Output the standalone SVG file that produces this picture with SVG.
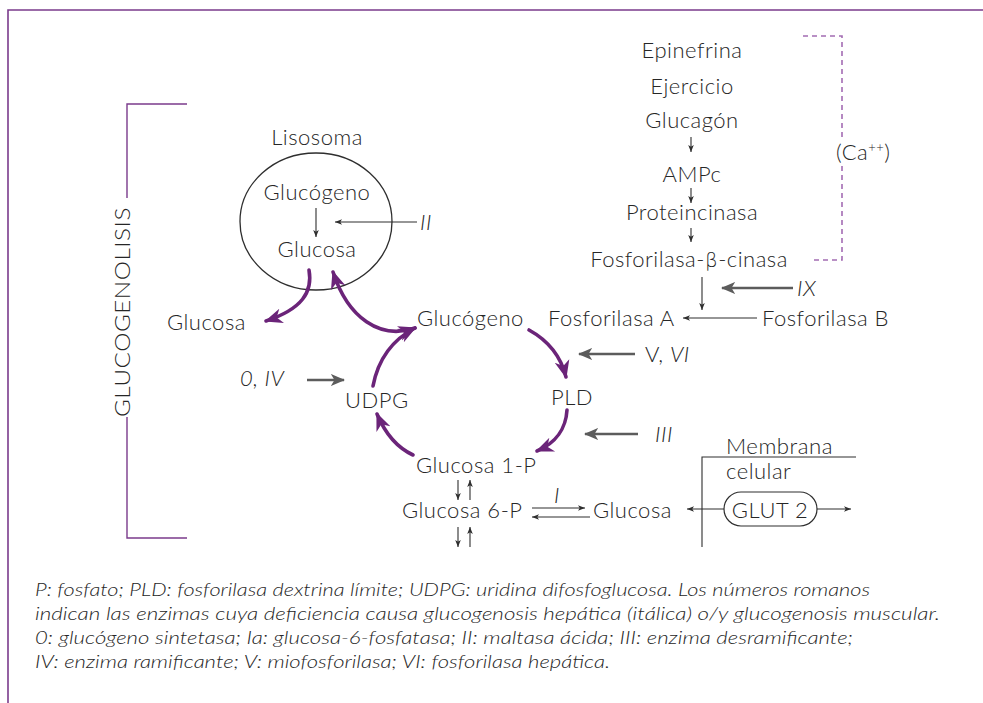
<svg xmlns="http://www.w3.org/2000/svg" width="983" height="703" viewBox="0 0 983 703">
  <defs>
    <style>
      .t { font-family: "Lato", "Open Sans", "Liberation Sans", sans-serif; font-weight: 300; font-size: 22px; letter-spacing: 0.5px; fill: #262626; }
      .c { text-anchor: middle; }
      .i { font-style: italic; }
      .note { font-family: "Lato", "Liberation Sans", sans-serif; font-weight: 300; font-size: 17px; font-style: italic; fill: #262626; }
      .frame { fill: none; stroke: #7b3b8c; stroke-width: 1.6; }
      .br { fill: none; stroke: #7b3b8c; stroke-width: 1.4; }
      .dash { fill: none; stroke: #a36cb3; stroke-width: 1.6; stroke-dasharray: 5 4; }
      .flow { fill: none; stroke: #6b2479; stroke-width: 3.6; stroke-linecap: round; }
      .enz { fill: none; stroke: #5c5c5c; stroke-width: 2.6; }
      .thin { fill: none; stroke: #2e2e2e; stroke-width: 1.1; }
    </style>
    <marker id="mFlow" viewBox="0 0 12 10" refX="11" refY="5" markerWidth="5" markerHeight="5" orient="auto-start-reverse" markerUnits="strokeWidth">
      <path d="M0,0 L12,5 L0,10 L3.5,5 z" fill="#6b2479"/>
    </marker>
    <marker id="mEnz" viewBox="0 0 12 10" refX="11" refY="5" markerWidth="5.5" markerHeight="5" orient="auto" markerUnits="strokeWidth">
      <path d="M0,0 L12,5 L0,10 L3,5 z" fill="#5c5c5c"/>
    </marker>
    <marker id="mThin" viewBox="0 0 10 8" refX="10" refY="4" markerWidth="7" markerHeight="5.6" orient="auto" markerUnits="userSpaceOnUse">
      <path d="M0,0 L10,4 L0,8 L2.5,4 z" fill="#2e2e2e"/>
    </marker>
  </defs>

  <rect width="983" height="703" fill="#ffffff"/>

  <!-- page frame -->
  <path class="frame" d="M8,703 V10 H983"/>

  <!-- GLUCOGENOLISIS bracket -->
  <g id="glucogenolisis">
    <path class="br" d="M187,104 H127 V198 M127,417 V538 H187"/>
    <text class="t c" x="0" y="0" transform="translate(130,312) rotate(-90)" textLength="210" lengthAdjust="spacingAndGlyphs">GLUCOGENOLISIS</text>
  </g>

  <!-- lysosome -->
  <g id="lisosoma">
    <text class="t c" x="317" y="145">Lisosoma</text>
    <ellipse cx="316" cy="221.5" rx="76" ry="68.5" fill="none" stroke="#2e2e2e" stroke-width="1.3"/>
    <text class="t c" x="317" y="200">Glucógeno</text>
    <text class="t c" x="317" y="257">Glucosa</text>
  </g>

  <g id="glucosa-libre"><text class="t" x="167" y="330">Glucosa</text></g>
  <g id="glucogeno"><text class="t" x="417" y="326">Glucógeno</text></g>
  <g id="pld"><text class="t" x="551" y="405">PLD</text></g>
  <g id="glucosa-1p"><text class="t" x="416" y="473">Glucosa 1-P</text></g>
  <g id="udpg"><text class="t" x="345" y="408">UDPG</text></g>
  <g id="glucosa-6p"><text class="t" x="402" y="518">Glucosa 6-P</text></g>
  <g id="glucosa-hep"><text class="t" x="593" y="518">Glucosa</text></g>
  <g id="fosforilasa-a"><text class="t" x="548" y="326">Fosforilasa A</text></g>
  <g id="fosforilasa-b"><text class="t" x="762" y="326">Fosforilasa B</text></g>

  <!-- hormonal cascade -->
  <g id="cascada">
    <text class="t c" x="692" y="58">Epinefrina</text>
    <text class="t c" x="692" y="94">Ejercicio</text>
    <text class="t c" x="692" y="128">Glucagón</text>
    <text class="t c" x="692" y="182">AMPc</text>
    <text class="t c" x="692" y="220">Proteincinasa</text>
    <text class="t c" x="689" y="267">Fosforilasa-<tspan font-family="'DejaVu Sans', sans-serif" font-size="20">β</tspan>-cinasa</text>
  </g>

  <g id="calcio">
    <path class="dash" d="M803,36 H842 V138 M842,166 V260 H813"/>
    <text class="t" x="836" y="160">(Ca<tspan font-size="13" dy="-8">++</tspan><tspan dy="8">)</tspan></text>
  </g>

  <!-- cell membrane and transporter -->
  <g id="membrana">
    <path class="thin" d="M702,547 V457 H856"/>
    <text class="t" x="726" y="454" font-size="20" textLength="107" lengthAdjust="spacingAndGlyphs">Membrana</text>
    <text class="t" x="726" y="479" font-size="20">celular</text>
  </g>
  <g id="glut2">
    <rect x="724" y="492" width="93" height="34" rx="17" fill="#ffffff" stroke="#2e2e2e" stroke-width="1.2"/>
    <text class="t c" x="770" y="518">GLUT 2</text>
  </g>

  <!-- enzyme labels -->
  <g id="enzimas">
    <text class="t i" x="420" y="230">II</text>
    <text class="t i" x="797" y="296">IX</text>
    <text class="t" x="645" y="362">V, <tspan class="i">VI</tspan></text>
    <text class="t i" x="655" y="442">III</text>
    <text class="t i" x="240" y="386">0, IV</text>
    <text class="t i" x="554" y="503">I</text>
  </g>

  <!-- connectors -->
  <g id="conectores">
    <!-- purple metabolic flow -->
    <path class="flow" d="M309,270 C313,292 302,309 266,321" marker-end="url(#mFlow)"/>
    <path class="flow" d="M333,272 C348,318 380,340 415,328" marker-start="url(#mFlow)" marker-end="url(#mFlow)"/>
    <path class="flow" d="M373,386 C378,360 392,340 415,328" marker-end="url(#mFlow)"/>
    <path class="flow" d="M529,330 C549,341 561,357 566,377" marker-end="url(#mFlow)"/>
    <path class="flow" d="M567,410 C566,428 556,443 537,451" marker-end="url(#mFlow)"/>
    <path class="flow" d="M413,455 C398,448 385,433 377,414" marker-end="url(#mFlow)"/>

    <!-- grey enzyme arrows -->
    <path class="enz" d="M793,288 H722" marker-end="url(#mEnz)"/>
    <path class="enz" d="M635,354 H579" marker-end="url(#mEnz)"/>
    <path class="enz" d="M638,434 H585" marker-end="url(#mEnz)"/>
    <path class="enz" d="M307,380 H344" marker-end="url(#mEnz)"/>

    <!-- thin arrows -->
    <path class="thin" d="M316,208 V237" marker-end="url(#mThin)"/>
    <path class="thin" d="M417,222 H335" marker-end="url(#mThin)"/>
    <path class="thin" d="M691,137 V152" marker-end="url(#mThin)"/>
    <path class="thin" d="M691,188 V203" marker-end="url(#mThin)"/>
    <path class="thin" d="M691,228 V242" marker-end="url(#mThin)"/>
    <path class="thin" d="M702,277 V310" marker-end="url(#mThin)"/>
    <path class="thin" d="M757,318 H683" marker-end="url(#mThin)"/>
    <path class="thin" d="M458,480 V500" marker-end="url(#mThin)"/>
    <path class="thin" d="M470,500 V480" marker-end="url(#mThin)"/>
    <path class="thin" d="M458,527 V547" marker-end="url(#mThin)"/>
    <path class="thin" d="M470,547 V527" marker-end="url(#mThin)"/>
    <path class="thin" d="M532,508 H585" marker-end="url(#mThin)"/>
    <path class="thin" d="M590,517 H532" marker-end="url(#mThin)"/>
    <path class="thin" d="M724,509 H687" marker-end="url(#mThin)"/>
    <path class="thin" d="M817,509 H851" marker-end="url(#mThin)"/>
  </g>

  <!-- legend -->
  <g id="leyenda">
    <text class="note" x="35" y="596" textLength="835" lengthAdjust="spacingAndGlyphs">P: fosfato; PLD: fosforilasa dextrina límite; UDPG: uridina difosfoglucosa. Los números romanos</text>
    <text class="note" x="35" y="620" textLength="905" lengthAdjust="spacingAndGlyphs">indican las enzimas cuya deficiencia causa glucogenosis hepática (itálica) o/y glucogenosis muscular.</text>
    <text class="note" x="35" y="644" textLength="818" lengthAdjust="spacingAndGlyphs">0: glucógeno sintetasa; Ia: glucosa-6-fosfatasa; II: maltasa ácida; III: enzima desramificante;</text>
    <text class="note" x="35" y="668" textLength="575" lengthAdjust="spacingAndGlyphs">IV: enzima ramificante; V: miofosforilasa; VI: fosforilasa hepática.</text>
  </g>
</svg>
